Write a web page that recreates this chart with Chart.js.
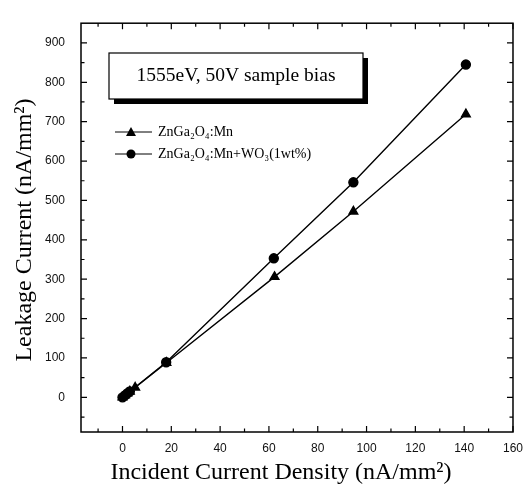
<!DOCTYPE html>
<html>
<head>
<meta charset="utf-8">
<script src="https://cdn.jsdelivr.net/npm/chart.js@4.4.1/dist/chart.umd.min.js"></script>
<style>
  html, body { margin: 0; padding: 0; background: #fff; }
  #wrap { width: 532px; height: 489px; }
</style>
</head>
<body>
<div id="wrap"><canvas id="grafiek" width="532" height="489"></canvas></div>
<script>
// data
const incidentMn = [0, 1, 2, 3, 5.2, 18, 62.3, 94.6, 140.7];
const leakageMn = [0, 5, 10, 15, 25, 88, 306, 472, 719];
const incidentWO3 = [0, 1, 2, 3, 17.9, 62, 94.6, 140.7];
const leakageWO3 = [0, 5, 10, 15, 89, 353, 546, 845];

const seriesNames = ['ZnGa₂O₄:Mn', 'ZnGa₂O₄:Mn+WO₃(1wt%)'];
const xTicks = [0, 20, 40, 60, 80, 100, 120, 140, 160];
const yTicks = [0, 100, 200, 300, 400, 500, 600, 700, 800, 900];
const boxText = '1555eV, 50V sample bias';
const xTitle = 'Incident Current Density (nA/mm²)';
const yTitle = 'Leakage Current (nA/mm²)';

const SERIF = '"Liberation Serif", "Times New Roman", serif';
const SANS = '"Liberation Sans", Arial, sans-serif';

function punten(xs, ys) {
  return xs.map((x, i) => ({ x: x, y: ys[i] }));
}

// kader, tickjes naar binnen, tekstvak, legenda en astitels
const extras = {
  id: 'extras',
  afterDraw(chart) {
    const ctx = chart.ctx;
    const a = chart.chartArea;
    const sx = chart.scales.x, sy = chart.scales.y;
    ctx.save();
    ctx.strokeStyle = '#000';
    ctx.lineWidth = 1.5;
    ctx.strokeRect(a.left, a.top, a.right - a.left, a.bottom - a.top);

    ctx.lineWidth = 1.2;
    ctx.beginPath();
    // x tickjes (major + minor)
    for (let i = 0; i < xTicks.length; i++) {
      const px = sx.getPixelForValue(xTicks[i]);
      ctx.moveTo(px, a.bottom); ctx.lineTo(px, a.bottom - 6);
      ctx.moveTo(px, a.top); ctx.lineTo(px, a.top + 6);
    }
    for (let v = -10; v < 160; v += 20) {
      if (v < sx.min) continue;
      const px = sx.getPixelForValue(v);
      ctx.moveTo(px, a.bottom); ctx.lineTo(px, a.bottom - 3.5);
      ctx.moveTo(px, a.top); ctx.lineTo(px, a.top + 3.5);
    }
    // y tickjes
    for (let i = 0; i < yTicks.length; i++) {
      const py = sy.getPixelForValue(yTicks[i]);
      ctx.moveTo(a.left, py); ctx.lineTo(a.left + 6, py);
      ctx.moveTo(a.right, py); ctx.lineTo(a.right - 6, py);
    }
    for (let v = -50; v < 950; v += 100) {
      if (v < sy.min || v > sy.max) continue;
      const py = sy.getPixelForValue(v);
      ctx.moveTo(a.left, py); ctx.lineTo(a.left + 3.5, py);
      ctx.moveTo(a.right, py); ctx.lineTo(a.right - 3.5, py);
    }
    ctx.stroke();

    // tekstvak met schaduw
    const bx = 109, by = 53, bw = 254, bh = 46;
    ctx.fillStyle = '#000';
    ctx.fillRect(bx + 5, by + 5, bw, bh);
    ctx.fillStyle = '#fff';
    ctx.fillRect(bx, by, bw, bh);
    ctx.lineWidth = 1.2;
    ctx.strokeRect(bx, by, bw, bh);
    ctx.fillStyle = '#000';
    ctx.font = '19.5px ' + SERIF;
    ctx.textAlign = 'center';
    ctx.textBaseline = 'middle';
    ctx.fillText(boxText, bx + bw / 2, by + bh / 2);

    // legenda
    ctx.font = '14px ' + SERIF;
    ctx.textAlign = 'left';
    const rijen = [132, 154];
    chart.data.datasets.forEach((ds, i) => {
      const y = rijen[i];
      ctx.strokeStyle = '#000';
      ctx.lineWidth = 1;
      ctx.beginPath();
      ctx.moveTo(115, y); ctx.lineTo(152, y);
      ctx.stroke();
      ctx.fillStyle = '#000';
      ctx.beginPath();
      if (ds.pointStyle === 'triangle') {
        ctx.moveTo(131, y - 5); ctx.lineTo(136, y + 4); ctx.lineTo(126, y + 4);
        ctx.closePath();
      } else {
        ctx.arc(131, y, 4.5, 0, Math.PI * 2);
      }
      ctx.fill();
      ctx.fillText(ds.label, 158, y);
    });

    // astitels
    ctx.font = '24px ' + SERIF;
    ctx.textAlign = 'center';
    ctx.fillText(xTitle, 281, 473);
    ctx.save();
    ctx.translate(25, 230);
    ctx.rotate(-Math.PI / 2);
    ctx.fillText(yTitle, 0, 0);
    ctx.restore();
    ctx.restore();
  }
};

function grafiek() {
  const ctx = document.getElementById('grafiek');
  new Chart(ctx, {
    type: 'scatter',
    data: {
      datasets: [{
        label: seriesNames[0],
        data: punten(incidentMn, leakageMn),
        showLine: true,
        borderColor: '#000',
        backgroundColor: '#000',
        borderWidth: 1.4,
        pointStyle: 'triangle',
        pointRadius: 5
      }, {
        label: seriesNames[1],
        data: punten(incidentWO3, leakageWO3),
        showLine: true,
        borderColor: '#000',
        backgroundColor: '#000',
        borderWidth: 1.4,
        pointStyle: 'circle',
        pointRadius: 4.5
      }]
    },
    options: {
      responsive: false,
      animation: false,
      layout: { padding: { top: 13, right: 12, left: 0, bottom: 0 } },
      scales: {
        x: {
          type: 'linear',
          min: -17,
          max: 160,
          afterFit: s => { s.height = 57; },
          afterBuildTicks: s => { s.ticks = xTicks.map(v => ({ value: v })); },
          ticks: { color: '#111', padding: 9, font: { family: SANS, size: 12 } },
          grid: { display: false, drawTicks: false },
          border: { display: false }
        },
        y: {
          type: 'linear',
          min: -88,
          max: 950,
          afterFit: s => { s.width = 81; },
          afterBuildTicks: s => { s.ticks = yTicks.map(v => ({ value: v })); },
          ticks: { color: '#111', padding: 16, font: { family: SANS, size: 12 } },
          grid: { display: false, drawTicks: false },
          border: { display: false }
        }
      },
      plugins: {
        legend: { display: false },
        tooltip: { enabled: false }
      }
    },
    plugins: [extras]
  });
}

window.onload = function() {
  grafiek();
};
</script>
</body>
</html>
